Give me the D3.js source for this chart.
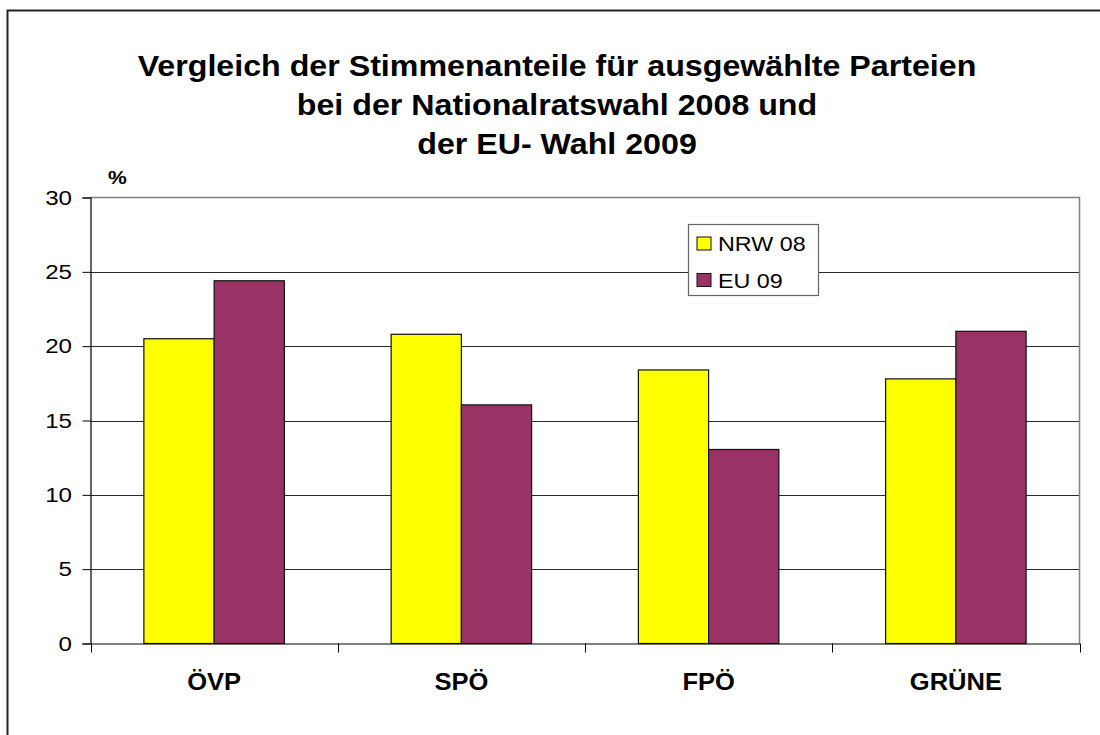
<!DOCTYPE html>
<html>
<head>
<meta charset="utf-8">
<script src="https://cdn.jsdelivr.net/npm/d3@7"></script>
<style>
  html, body { margin: 0; padding: 0; background: #fff; }
  svg { display: block; font-family: "Liberation Sans", Arial, sans-serif; }
</style>
</head>
<body>
<svg id="chart" width="1100" height="735"></svg>
<script>
const categories = ["ÖVP", "SPÖ", "FPÖ", "GRÜNE"];
const seriesNames = ["NRW 08", "EU 09"];
const nrw08 = [20.5, 20.8, 18.4, 17.8];
const eu09 = [24.4, 16.05, 13.05, 21.0];
const yTicks = [0, 5, 10, 15, 20, 25, 30];
const titleLines = ["Vergleich der Stimmenanteile für ausgewählte Parteien", "bei der Nationalratswahl 2008 und", "der EU- Wahl 2009"];
const colors = ["#FFFF00", "#993366"];

const values = [nrw08, eu09];
const svg = d3.select("#chart");
const SX = 1.11;  // horizontal text stretch seen in the reference
const SXY = 1.15; // y tick labels

function stretched(parent, x, y) {
  return parent.append("g").attr("transform", `translate(${x},${y}) scale(${SX},1)`).append("text");
}

// outer border (top + left visible)
svg.append("rect").attr("x", 7.5).attr("y", 10.5).attr("width", 1200).attr("height", 1000)
  .attr("fill", "none").attr("stroke", "#222").attr("stroke-width", 2);

const pLeft = 90.5, pRight = 1079.5, pTop = 197.5, pBottom = 643.5;
const x0 = d3.scaleBand().domain(categories).range([pLeft, pRight]).padding(0);
const x1 = d3.scaleBand().domain(seriesNames).range([0, x0.bandwidth()]).paddingInner(0).paddingOuter(0.76);
const y = d3.scaleLinear().domain([0, 30]).range([pBottom, pTop]);

// title
titleLines.forEach((t, i) => {
  stretched(svg, 557, 76 + i * 39).attr("text-anchor", "middle").attr("font-weight", "bold")
    .attr("font-size", 29).attr("fill", "#000").text(t);
});

// % label
stretched(svg, 108, 184).attr("font-weight", "bold").attr("font-size", 19).attr("fill", "#000").text("%");

// gridlines
svg.append("g").selectAll("line").data(yTicks.filter(d => d > 0 && d < 30)).join("line")
  .attr("x1", pLeft).attr("x2", pRight)
  .attr("y1", d => Math.round(y(d)) + 0.5).attr("y2", d => Math.round(y(d)) + 0.5)
  .attr("stroke", "#2a2a2a").attr("stroke-width", 1);

// plot area border top/right
svg.append("path")
  .attr("d", `M${pLeft},${pTop}H${pRight}V${pBottom}`)
  .attr("fill", "none").attr("stroke", "#808080").attr("stroke-width", 1.5);

// bars
const groups = svg.append("g").selectAll("g").data(categories).join("g")
  .attr("transform", d => `translate(${x0(d)},0)`);
groups.selectAll("rect").data((c, ci) => seriesNames.map((s, si) => ({ s, si, v: values[si][ci] }))).join("rect")
  .attr("x", d => x1(d.s))
  .attr("y", d => y(d.v))
  .attr("width", x1.bandwidth())
  .attr("height", d => y(0) - y(d.v))
  .attr("fill", d => colors[d.si])
  .attr("stroke", "#111").attr("stroke-width", 1.2);

// y axis
const yAxis = d3.axisLeft(y).tickValues(yTicks).tickSize(8).tickPadding(10).tickFormat(d3.format("d"));
const gy = svg.append("g").attr("transform", `translate(${pLeft},0)`).call(yAxis);
gy.select(".domain").attr("stroke", "#000").attr("stroke-width", 1.2);
gy.selectAll(".tick line").attr("stroke", "#000");
gy.selectAll(".tick text").attr("font-size", 21).attr("fill", "#000")
  .attr("font-family", "'Liberation Sans', Arial, sans-serif")
  .attr("x", -18.5 / SXY).attr("transform", `scale(${SXY},1)`);

// x axis
const xAxis = d3.axisBottom(x0).tickSize(0).tickPadding(30);
const gx = svg.append("g").attr("transform", `translate(0,${pBottom})`).call(xAxis);
gx.select(".domain").attr("stroke", "#000").attr("stroke-width", 1.2);
gx.selectAll(".tick text").attr("font-size", 23).attr("font-weight", "bold").attr("fill", "#000")
  .attr("font-family", "'Liberation Sans', Arial, sans-serif")
  .attr("transform", `scale(${SX},1)`);
// category boundary ticks
const bounds = categories.map(c => x0(c)).concat([pRight]);
gx.selectAll(".bt").data(bounds).join("line").attr("class", "bt")
  .attr("x1", d => Math.round(d) + 0.5).attr("x2", d => Math.round(d) + 0.5)
  .attr("y1", 0).attr("y2", 9).attr("stroke", "#000");

// legend
const lg = svg.append("g").attr("transform", "translate(688.5,224.5)");
lg.append("rect").attr("width", 130).attr("height", 71).attr("fill", "#fff")
  .attr("stroke", "#666").attr("stroke-width", 1.2);
seriesNames.forEach((s, i) => {
  lg.append("rect").attr("x", 8.5).attr("y", 12.5 + i * 36.5).attr("width", 14).attr("height", 13)
    .attr("fill", colors[i]).attr("stroke", "#111");
  stretched(lg, 29.5, 26.5 + i * 36.5).attr("font-size", 21).attr("fill", "#000").text(s);
});
</script>
</body>
</html>
